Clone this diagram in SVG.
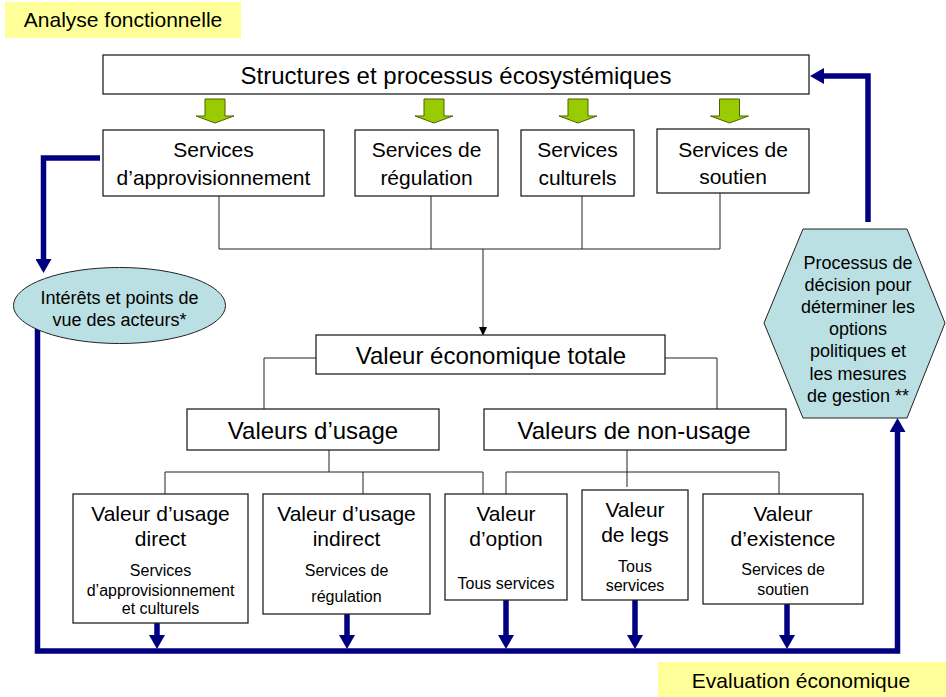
<svg xmlns="http://www.w3.org/2000/svg" width="946" height="697" viewBox="0 0 946 697">
<defs>
<style>
text{font-family:"Liberation Sans",Arial,sans-serif;fill:#000;text-anchor:middle}
.t24{font-size:24px}
.t21{font-size:21px}
.t18{font-size:18px}
.t16{font-size:16px}
.box{fill:#fff;stroke:#222;stroke-width:1.3}
.lbl{fill:#ffff99}
.cyan{fill:#bbe0e3;stroke:#222;stroke-width:1}
.green{fill:#99cc00;stroke:#4f6200;stroke-width:1}
.conn{fill:none;stroke:#222;stroke-width:1}
.blue{fill:none;stroke:#000080;stroke-width:5.5}
</style>
<marker id="bh" viewBox="0 0 14 16" refX="0" refY="8" markerWidth="14" markerHeight="16" markerUnits="userSpaceOnUse" orient="auto"><path d="M0,0 L14,8 L0,16 Z" fill="#000080"/></marker>
<marker id="ah" viewBox="0 0 9 8" refX="0" refY="4" markerWidth="9" markerHeight="8" markerUnits="userSpaceOnUse" orient="auto"><path d="M0,0 L9,4 L0,8 Z" fill="#000"/></marker>
<path id="garrow" d="M-10,0 H10 V17 H19 L0,24 L-19,17 H-10 Z"/>
</defs>

<g id="label-analyse">
<rect class="lbl" x="5" y="2" width="236" height="36"/>
<text class="t21" x="123" y="27">Analyse fonctionnelle</text>
</g>
<g id="label-evaluation">
<rect class="lbl" x="658" y="662" width="288" height="35"/>
<text class="t21" x="801" y="688">Evaluation économique</text>
</g>

<g id="connectors">
<path class="conn" d="M219,196 V249 H720 V193"/>
<path class="conn" d="M431,196 V249 M582,196 V249"/>
<path class="conn" d="M483,249 V327" marker-end="url(#ah)"/>
<path class="conn" d="M316,358 H264 V409 M665,358 H717 V409"/>
<path class="conn" d="M329,450 V472 M165,494 V472 H483 V494 M363,472 V494"/>
<path class="conn" d="M627,450 V487 M506,494 V472 H779 V494"/>
<g class="green">
<use href="#garrow" x="215" y="99"/>
<use href="#garrow" x="434" y="99"/>
<use href="#garrow" x="578" y="99"/>
<use href="#garrow" x="729.5" y="99"/>
</g>
<path class="blue" d="M100,158 H43.5 V259" marker-end="url(#bh)"/>
<path class="blue" d="M37.5,326 V651 H897.5 V432" marker-end="url(#bh)"/>
<path class="blue" d="M868,222 V76 H824" marker-end="url(#bh)"/>
<path class="blue" d="M157,623 V635" marker-end="url(#bh)"/>
<path class="blue" d="M347,614 V635" marker-end="url(#bh)"/>
<path class="blue" d="M506,600 V635" marker-end="url(#bh)"/>
<path class="blue" d="M635,600 V635" marker-end="url(#bh)"/>
<path class="blue" d="M787,601 V635" marker-end="url(#bh)"/>
</g>

<g id="n-structures">
<rect class="box" x="103" y="55" width="706" height="39"/>
<text class="t24" x="456" y="84">Structures et processus écosystémiques</text>
</g>
<g id="n-approvisionnement">
<rect class="box" x="103" y="130" width="221" height="66"/>
<text class="t21" x="213.5" y="157">Services</text>
<text class="t21" x="213.5" y="185">d’approvisionnement</text>
</g>
<g id="n-regulation">
<rect class="box" x="355" y="130" width="143" height="66"/>
<text class="t21" x="426.5" y="157">Services de</text>
<text class="t21" x="426.5" y="185">régulation</text>
</g>
<g id="n-culturels">
<rect class="box" x="521" y="130" width="113" height="66"/>
<text class="t21" x="577.5" y="157">Services</text>
<text class="t21" x="577.5" y="185">culturels</text>
</g>
<g id="n-soutien">
<rect class="box" x="657" y="129" width="152" height="64"/>
<text class="t21" x="733" y="157">Services de</text>
<text class="t21" x="733" y="184">soutien</text>
</g>

<g id="n-acteurs">
<ellipse class="cyan" cx="119.5" cy="305.5" rx="106" ry="38"/>
<text class="t18" x="119.5" y="304">Intérêts et points de</text>
<text class="t18" x="119.5" y="326">vue des acteurs*</text>
</g>

<g id="n-decision">
<polygon class="cyan" points="803,229 907,229 945,323 907,418 803,418 764,323"/>
<text class="t18" x="858" y="269">Processus de</text>
<text class="t18" x="858" y="291">décision pour</text>
<text class="t18" x="858" y="313">déterminer les</text>
<text class="t18" x="858" y="335">options</text>
<text class="t18" x="858" y="357">politiques et</text>
<text class="t18" x="858" y="380">les mesures</text>
<text class="t18" x="858" y="402">de gestion **</text>
</g>

<g id="n-vet">
<rect class="box" x="316" y="335" width="349" height="39"/>
<text class="t24" x="491" y="364">Valeur économique totale</text>
</g>
<g id="n-usage">
<rect class="box" x="187" y="409" width="252" height="41"/>
<text class="t24" x="313" y="439">Valeurs d’usage</text>
</g>
<g id="n-nonusage">
<rect class="box" x="484" y="409" width="302" height="41"/>
<text class="t24" x="634" y="439">Valeurs de non-usage</text>
</g>

<g id="n-direct">
<rect class="box" x="73" y="494" width="175" height="129"/>
<text class="t21" x="160.5" y="521">Valeur d’usage</text>
<text class="t21" x="160.5" y="546">direct</text>
<text class="t16" x="160.5" y="576">Services</text>
<text class="t16" x="160.5" y="596">d’approvisionnement</text>
<text class="t16" x="160.5" y="614">et culturels</text>
</g>
<g id="n-indirect">
<rect class="box" x="263" y="494" width="167" height="120"/>
<text class="t21" x="346.5" y="521">Valeur d’usage</text>
<text class="t21" x="346.5" y="546">indirect</text>
<text class="t16" x="346.5" y="576">Services de</text>
<text class="t16" x="346.5" y="602">régulation</text>
</g>
<g id="n-option">
<rect class="box" x="445" y="494" width="122" height="106"/>
<text class="t21" x="506" y="521">Valeur</text>
<text class="t21" x="506" y="546">d’option</text>
<text class="t16" x="506" y="589">Tous services</text>
</g>
<g id="n-legs">
<rect class="box" x="582" y="490" width="106" height="110"/>
<text class="t21" x="635" y="517">Valeur</text>
<text class="t21" x="635" y="542">de legs</text>
<text class="t16" x="635" y="572">Tous</text>
<text class="t16" x="635" y="591">services</text>
</g>
<g id="n-existence">
<rect class="box" x="703" y="494" width="160" height="110"/>
<text class="t21" x="783" y="521">Valeur</text>
<text class="t21" x="783" y="546">d’existence</text>
<text class="t16" x="783" y="575">Services de</text>
<text class="t16" x="783" y="595">soutien</text>
</g>
</svg>
